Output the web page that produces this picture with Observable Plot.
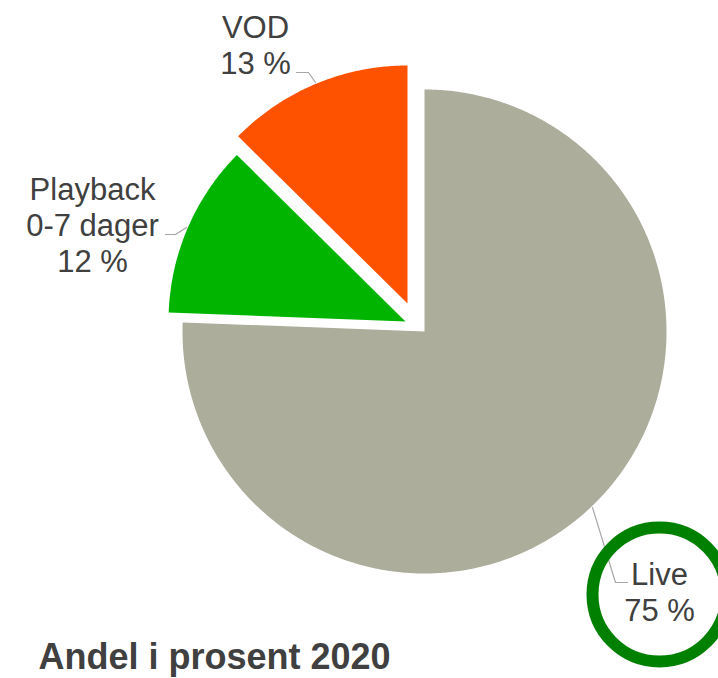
<!DOCTYPE html>
<html>
<head>
<meta charset="utf-8">
<script src="https://cdn.jsdelivr.net/npm/d3@7"></script>
<script src="https://cdn.jsdelivr.net/npm/@observablehq/plot@0.6"></script>
<style>
  html, body { margin: 0; padding: 0; background: #ffffff; }
  #chart svg { display: block; }
</style>
</head>
<body>
<div id="chart"></div>
<script>
// ---- Data ----
const categories = ["Live", "Playback 0-7 dager", "VOD"];
const values = [75.6, 11.8, 12.6];
const labelTexts = ["Live\n75 %", "Playback\n0-7 dager\n12 %", "VOD\n13 %"];
const title = "Andel i prosent 2020";

// ---- Styles / layout ----
const colors = ["#adad9c", "#00b400", "#ff5200"];
const sliceGeom = [ // [cx, cy, r] in pixel space (exploded slices shifted)
  [424, 331, 242],
  [405, 321, 237],
  [407, 303, 238]
];
const labelPos = [[659, 591], [92, 224], [255, 44]];
const leaders = [
  [[592, 507], [615, 582], [627, 582]],
  [[165, 234], [175, 234], [186, 227]],
  [[296, 72], [308, 72], [315, 82]]
];
const W = 718, H = 678;
const font = "'Liberation Sans', Arial, Helvetica, sans-serif";

// ---- Build slice polygons from values ----
const total = d3.sum(values);
const ends = d3.cumsum(values);
const slices = categories.map((cat, i) => {
  const a0 = ((ends[i] - values[i]) / total) * 2 * Math.PI;
  const a1 = (ends[i] / total) * 2 * Math.PI;
  const [cx, cy, r] = sliceGeom[i];
  const pts = [{x: cx, y: cy}];
  const n = Math.max(8, Math.ceil((a1 - a0) / (Math.PI / 360)));
  for (let k = 0; k <= n; k++) {
    const a = a0 + (a1 - a0) * k / n;
    pts.push({x: cx + r * Math.sin(a), y: cy - r * Math.cos(a)});
  }
  return {cat, color: colors[i], pts};
});

const labels = categories.map((cat, i) => ({cat, text: labelTexts[i], x: labelPos[i][0], y: labelPos[i][1]}));
const leaderPts = leaders.flatMap((l, i) => l.map(([x, y]) => ({cat: categories[i], x, y})));

const chart = Plot.plot({
  width: W,
  height: H,
  margin: 0,
  style: {fontFamily: font, background: "#ffffff", overflow: "hidden"},
  x: {domain: [0, W], range: [0, W], axis: null},
  y: {domain: [0, H], range: [0, H], axis: null},
  marks: [
    ...slices.map(s => Plot.line(s.pts, {x: "x", y: "y", fill: s.color, stroke: "none", curve: "linear-closed"})),
    Plot.line(leaderPts, {x: "x", y: "y", z: "cat", stroke: "#a6a6a6", strokeWidth: 1.2}),
    Plot.text(labels, {x: "x", y: "y", text: "text", fontSize: 31, lineHeight: 1.16, fill: "#404040", textAnchor: "middle", lineAnchor: "middle"}),
    Plot.dot([labels[0]], {x: "x", y: d => d.y + 3, r: 67, stroke: "#008000", strokeWidth: 12, fill: "none"}),
    Plot.text([title], {x: 38, y: 657, text: d => d, fontSize: 36, fontWeight: "bold", fill: "#404040", textAnchor: "start", lineAnchor: "middle"})
  ]
});
document.getElementById("chart").appendChild(chart);
</script>
</body>
</html>
